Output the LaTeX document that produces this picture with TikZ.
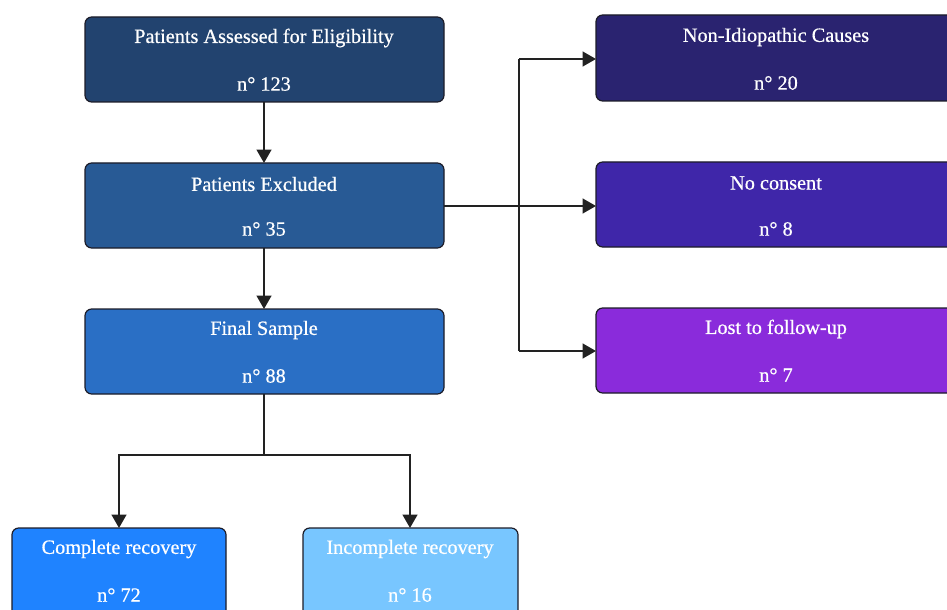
\documentclass[tikz,border=0pt]{standalone}
\usepackage{fontspec}
\setmainfont{Liberation Serif}[FakeBold=0.6]
\usetikzlibrary{arrows.meta}
\definecolor{cA}{HTML}{22436F}
\definecolor{cB}{HTML}{285A95}
\definecolor{cC}{HTML}{2A6FC5}
\definecolor{cD}{HTML}{1F83FF}
\definecolor{cE}{HTML}{78C6FF}
\definecolor{cF}{HTML}{2A2370}
\definecolor{cG}{HTML}{3F26A9}
\definecolor{cH}{HTML}{8A2BDB}
\definecolor{edge}{HTML}{1C1C28}
\definecolor{wire}{HTML}{222222}
\tikzset{
  box/.style={draw=edge, line width=0.9pt, rounded corners=5pt},
  ttl/.style={text=white, font=\fontsize{15.2}{17}\selectfont, anchor=center},
  conn/.style={draw=wire, line width=1.6pt, -{Triangle[length=10pt,width=11pt]}},
  plain/.style={draw=wire, line width=1.6pt}
}
\begin{document}
\begin{tikzpicture}[x=0.75pt,y=-0.75pt]
\useasboundingbox (0,0) rectangle (947,610);
\begin{scope}
\clip (0,0) rectangle (947,610);
% boxes
\path[box, fill=cA] (85,17) rectangle (444,102);
\path[box, fill=cB] (85,163) rectangle (444,248);
\path[box, fill=cC] (85,309) rectangle (444,394);
\path[box, fill=cD] (12,528) rectangle (226,625);
\path[box, fill=cE] (303,528) rectangle (518,625);
\path[box, fill=cF] (596,15) rectangle (965,101);
\path[box, fill=cG] (596,162) rectangle (965,247);
\path[box, fill=cH] (596,308) rectangle (965,393);
\end{scope}
% anchor coordinates
\coordinate (b1s) at (264,102);
\coordinate (b2n) at (264,163);
\coordinate (b2s) at (264,248);
\coordinate (b3n) at (264,309);
\coordinate (b3s) at (264,394);
\coordinate (b2e) at (444,206);
\coordinate (r1w) at (596,59);
\coordinate (r2w) at (596,206);
\coordinate (r3w) at (596,351);
\coordinate (b4n) at (119,528);
\coordinate (b5n) at (410,528);
\coordinate (split) at (264,455);
\coordinate (vt) at (519,59);
\coordinate (vb) at (519,351);
% texts
\node[ttl] (t1) at (264,38) {Patients Assessed for Eligibility};
\node[ttl] (n1) at (264,84) {n° 123};
\node[ttl] (t2) at (264,184) {Patients Excluded};
\node[ttl] (n2) at (264,229) {n° 35};
\node[ttl] (t3) at (264,330) {Final Sample};
\node[ttl] (n3) at (264,376) {n° 88};
\node[ttl] (t4) at (119,549) {Complete recovery};
\node[ttl] (n4) at (119,595) {n° 72};
\node[ttl] (t5) at (410,549) {Incomplete recovery};
\node[ttl] (n5) at (410,595) {n° 16};
\node[ttl] (t6) at (776,37) {Non-Idiopathic Causes};
\node[ttl] (n6) at (776,83) {n° 20};
\node[ttl] (t7) at (776,183) {No consent};
\node[ttl] (n7) at (776,229) {n° 8};
\node[ttl] (t8) at (776,329) {Lost to follow-up};
\node[ttl] (n8) at (776,375) {n° 7};
% connectors
\draw[conn] (b1s) -- (b2n);
\draw[conn] (b2s) -- (b3n);
\draw[conn] (b2e) -- (r2w);
\draw[plain] (vt) -- (vb);
\draw[conn] (vt) -- (r1w);
\draw[conn] (vb) -- (r3w);
\draw[plain] (b3s) -- (split);
\draw[conn] (split) -| (b4n);
\draw[conn] (split) -| (b5n);
\end{tikzpicture}
\end{document}
